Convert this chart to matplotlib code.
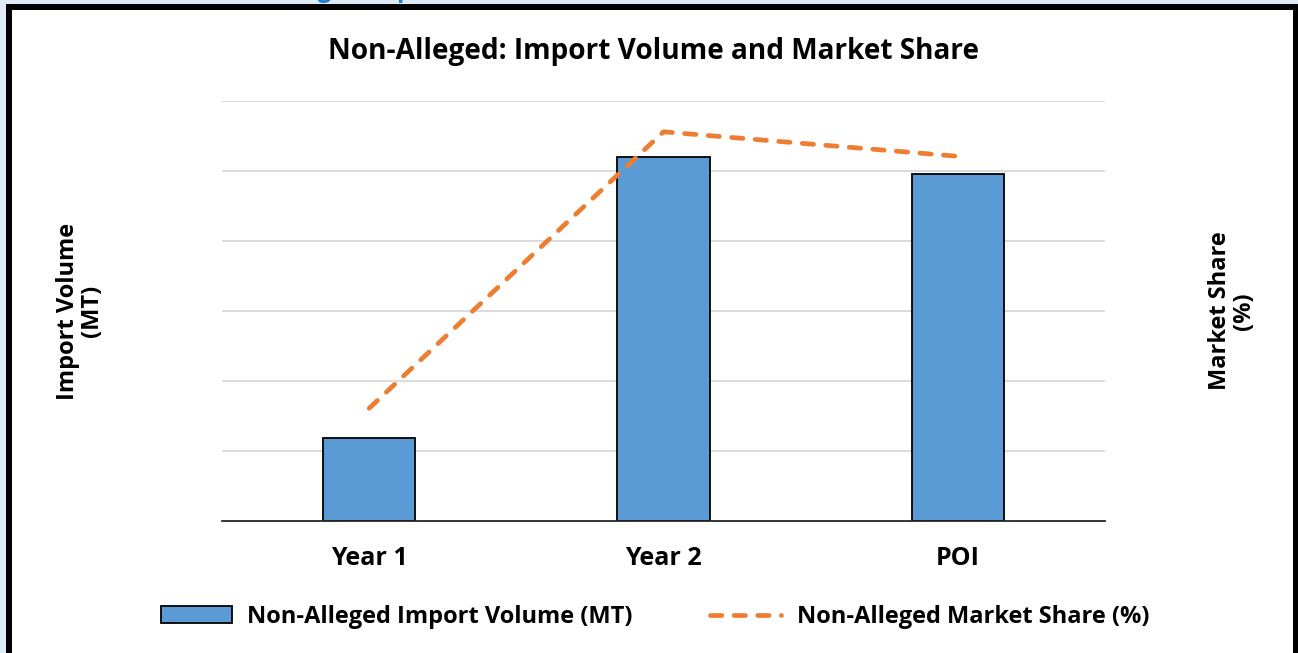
import matplotlib.pyplot as plt
from matplotlib.patches import Rectangle

# values (axis scales are hidden in the original)
categories = ["Year 1", "Year 2", "POI"]
import_volume = [1.19, 5.2, 4.96]
market_share = [1.61, 5.56, 5.21]

BLUE = "#5b9bd5"
ORANGE = "#ed7d31"
W, H = 1298, 653

plt.rcParams["font.family"] = ["Open Sans", "DejaVu Sans"]
plt.rcParams["font.weight"] = "bold"

fig = plt.figure(figsize=(W / 100, H / 100), dpi=100, facecolor="#deebf7")

# page heading cut off above the chart box
fig.text(216 / W, 1 + 3 / H, "Non-Alleged Imports", color="#1f7fd0", fontsize=17,
         fontweight="bold", ha="left", va="baseline")

# white chart box with a thick black frame
fig.patches.append(Rectangle((9 / W, -0.05), (1295.5 - 9) / W, 1 - 7 / H + 0.05,
                             transform=fig.transFigure, facecolor="white",
                             edgecolor="black", linewidth=4.3, zorder=-1))

ax = fig.add_axes([222 / W, 1 - 521 / H, (1105 - 222) / W, (521 - 101) / H])
ax.set_facecolor("none")
x = list(range(len(categories)))
bars = ax.bar(x, import_volume, width=0.313, color=BLUE, edgecolor="black",
              linewidth=1.3, zorder=3, label="Non-Alleged Import Volume (MT)")

ax2 = ax.twinx()
ax2.set_ylim(0, 6)
line, = ax2.plot(x, market_share, color=ORANGE, linewidth=3.4, linestyle="--",
                 dashes=(2.4, 2.6), dash_capstyle="round", zorder=5,
                 label="Non-Alleged Market Share (%)")
ax2.axis("off")

ax.set_xlim(-0.5, 2.5)
ax.set_ylim(0, 6)
ax.set_yticks(range(1, 7))
ax.yaxis.grid(True, color="#d9d9d9", linewidth=1.3)
ax.set_axisbelow(True)
ax.tick_params(axis="y", left=False, right=False, labelleft=False, labelright=False)
ax.tick_params(axis="x", length=0, pad=18, labelsize=18)
ax.set_xticks(x)
ax.set_xticklabels(categories, fontweight="bold")
for s in ["top", "right", "left"]:
    ax.spines[s].set_visible(False)
ax.spines["bottom"].set_color("#262626")
ax.spines["bottom"].set_linewidth(1.3)
ax.spines["bottom"].set_zorder(4)

fig.text(653 / W, 1 - 51 / H, "Non-Alleged: Import Volume and Market Share",
         ha="center", va="center", fontsize=20.2, fontweight="bold")
fig.text(80 / W, 1 - 311 / H, "Import Volume\n(MT)", rotation=90, ha="center",
         va="center", multialignment="center", fontsize=17, fontweight="bold",
         linespacing=1.05)
fig.text(1232 / W, 1 - 311 / H, "Market Share\n(%)", rotation=90, ha="center",
         va="center", multialignment="center", fontsize=17, fontweight="bold",
         linespacing=1.05)

handles = [bars, line]
fig.legend(handles, [h.get_label() for h in handles], loc="center",
           bbox_to_anchor=(655 / W, 1 - 617 / H), ncol=2, frameon=False,
           fontsize=17, handlelength=3.0, handletextpad=0.65, columnspacing=3.3)

fig.savefig("out.png", dpi=100, facecolor=fig.get_facecolor())
